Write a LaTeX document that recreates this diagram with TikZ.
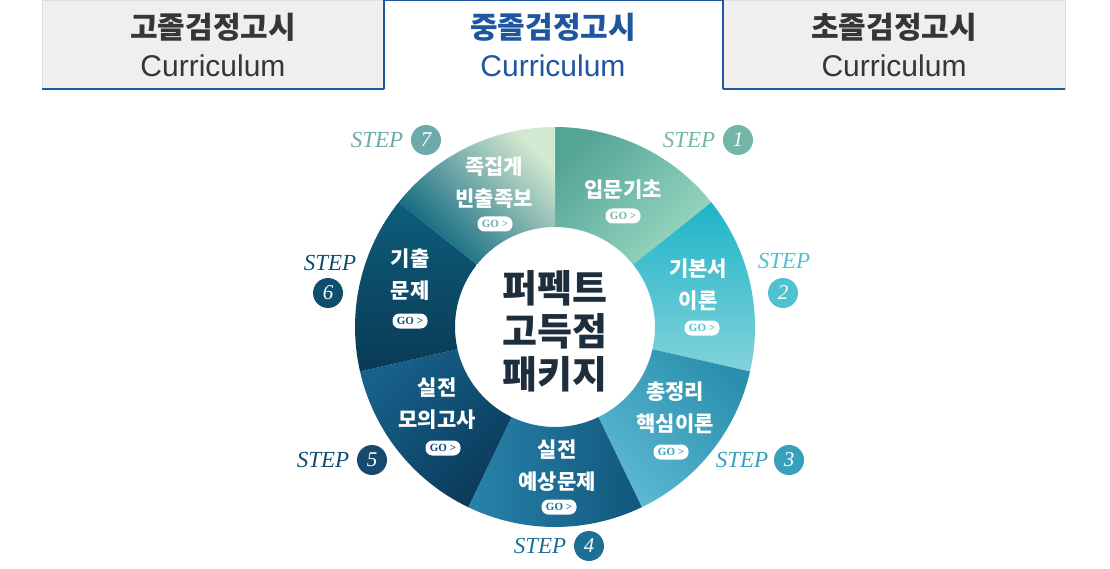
\documentclass[tikz,border=0pt]{standalone}
\usepackage{fontspec}
\setmainfont{Liberation Serif}
\newfontfamily\krfont{Noto Sans CJK KR}
\newfontfamily\latinsans{Liberation Sans}
\usepackage{tikz}
\usetikzlibrary{positioning}
\definecolor{tabbg}{HTML}{F0EEEF}
\definecolor{tabline}{HTML}{DFDEDF}
\definecolor{tabblue}{HTML}{1F56A0}
\definecolor{tabtext}{HTML}{363636}
\definecolor{centernavy}{HTML}{1E2E3C}
\definecolor{seg1a}{HTML}{55A597}
\definecolor{seg1b}{HTML}{9AD8C2}
\definecolor{seg2a}{HTML}{1FB4C8}
\definecolor{seg2b}{HTML}{82D2DA}
\definecolor{seg3a}{HTML}{2A8FAD}
\definecolor{seg3b}{HTML}{5CB8D3}
\definecolor{seg4a}{HTML}{2883AB}
\definecolor{seg4b}{HTML}{11567B}
\definecolor{seg5a}{HTML}{17618C}
\definecolor{seg5b}{HTML}{0B3A59}
\definecolor{seg6a}{HTML}{0D5D7B}
\definecolor{seg6b}{HTML}{0A3A55}
\definecolor{seg7a}{HTML}{03607A}
\definecolor{seg7b}{HTML}{D2E8D0}
\definecolor{step1}{HTML}{73B6A8}
\definecolor{step2}{HTML}{50C1D0}
\definecolor{step3}{HTML}{38A0BD}
\definecolor{step4}{HTML}{1E6F95}
\definecolor{step5}{HTML}{164B6F}
\definecolor{step6}{HTML}{0F4F6D}
\definecolor{step7}{HTML}{6CABAA}

\begin{document}
\begin{tikzpicture}[
        x=1pt, y=-1pt,
        tabbox/.style={rectangle, inner sep=0pt, outer sep=0pt, minimum height=89pt},
        tabtitle/.style={text=#1, font=\krfont\bfseries\fontsize{30}{30}\selectfont},
        tabsub/.style={text=#1, font=\latinsans\fontsize{30}{30}\selectfont},
        segtext/.style={text=white, align=center, font=\krfont\bfseries\fontsize{21}{32}\selectfont},
        gobadge/.style={fill=white, rounded corners=7pt, minimum width=35pt, minimum height=15pt, inner sep=0pt, text=#1, font=\bfseries\fontsize{11}{11}\selectfont},
        steplabel/.style={text=#1, font=\itshape\fontsize{23}{23}\selectfont},
        stepnum/.style={circle, fill=#1, text=white, minimum size=30pt, inner sep=0pt, font=\itshape\fontsize{21}{21}\selectfont},
        centertext/.style={text=centernavy, align=center, font=\krfont\bfseries\fontsize{38}{43}\selectfont}
    ]
        \useasboundingbox (0,0) rectangle (1110,569);

        % tabs
        \node[tabbox, minimum width=342pt, fill=tabbg, draw=tabline] (tabA) at (213,44.5) {};
        \node[tabbox, minimum width=339pt, fill=white] (tabB) at (553.5,44.5) {};
        \node[tabbox, minimum width=342pt, fill=tabbg, draw=tabline] (tabC) at (894,44.5) {};
        \draw[tabblue, line width=2.5pt] (tabB.south west) -- (tabB.north west) -- (tabB.north east) -- (tabB.south east);
        \draw[tabblue, line width=2.5pt] (tabA.south west) -- (tabA.south east);
        \draw[tabblue, line width=2.5pt] (tabC.south west) -- (tabC.south east);
        \node[tabtitle=tabtext] (titleA) at (213,27) {고졸검정고시};
        \node[tabsub=tabtext] (subA) at (213,66) {Curriculum};
        \node[tabtitle=tabblue] (titleB) at (553,27) {중졸검정고시};
        \node[tabsub=tabblue] (subB) at (553,66) {Curriculum};
        \node[tabtitle=tabtext] (titleC) at (894,27) {초졸검정고시};
        \node[tabsub=tabtext] (subC) at (894,66) {Curriculum};

        % ring
        \begin{scope}[shift={(555,327)}]
            \shade[top color=seg1a, bottom color=seg1b, shading angle=45] (-90:200) arc[start angle=-90, end angle=-38.571, radius=200] -- (-38.571:100) arc[start angle=-38.571, end angle=-90, radius=100] -- cycle;
            \shade[top color=seg2a, bottom color=seg2b, shading angle=0] (-38.571:200) arc[start angle=-38.571, end angle=12.857, radius=200] -- (12.857:100) arc[start angle=12.857, end angle=-38.571, radius=100] -- cycle;
            \shade[top color=seg3a, bottom color=seg3b, shading angle=-45] (12.857:200) arc[start angle=12.857, end angle=64.286, radius=200] -- (64.286:100) arc[start angle=64.286, end angle=12.857, radius=100] -- cycle;
            \shade[top color=seg4a, bottom color=seg4b, shading angle=90] (64.286:200) arc[start angle=64.286, end angle=115.714, radius=200] -- (115.714:100) arc[start angle=115.714, end angle=64.286, radius=100] -- cycle;
            \shade[top color=seg5a, bottom color=seg5b, shading angle=45] (115.714:200) arc[start angle=115.714, end angle=167.143, radius=200] -- (167.143:100) arc[start angle=167.143, end angle=115.714, radius=100] -- cycle;
            \shade[top color=seg6a, bottom color=seg6b, shading angle=0] (167.143:200) arc[start angle=167.143, end angle=218.571, radius=200] -- (218.571:100) arc[start angle=218.571, end angle=167.143, radius=100] -- cycle;
            \shade[top color=seg7a, bottom color=seg7b, shading angle=135] (218.571:200) arc[start angle=218.571, end angle=270, radius=200] -- (270:100) arc[start angle=270, end angle=218.571, radius=100] -- cycle;
        \end{scope}

        \node[centertext] (title) at (555,331) {퍼펙트\\고득점\\패키지};

        % segment labels
        \node[segtext] (seg1) at (623,190) {입문기초};
        \node[segtext] (seg2) at (698,284.5) {기본서\\이론};
        \node[segtext] (seg3) at (675,408) {총정리\\핵심이론};
        \node[segtext] (seg4) at (557,466) {실전\\예상문제};
        \node[segtext] (seg5) at (437,404) {실전\\모의고사};
        \node[segtext] (seg6) at (410,275) {기출\\문제};
        \node[segtext] (seg7) at (494,182.5) {족집게\\빈출족보};

        \node[gobadge=step1] (go1) at (623,216) {GO >};
        \node[gobadge=step2] (go2) at (702,328) {GO >};
        \node[gobadge=step3] (go3) at (671,452) {GO >};
        \node[gobadge=step4] (go4) at (559,507) {GO >};
        \node[gobadge=step5] (go5) at (443,448) {GO >};
        \node[gobadge=step6] (go6) at (410,321) {GO >};
        \node[gobadge=step7] (go7) at (495,224) {GO >};

        % steps
        \node[steplabel=step1] (step1txt) at (689,140) {STEP};
        \node[stepnum=step1] (step1num) at (738,140) {1};
        \node[steplabel=step2] (step2txt) at (784,261) {STEP};
        \node[stepnum=step2] (step2num) at (783,293) {2};
        \node[steplabel=step3] (step3txt) at (742,460) {STEP};
        \node[stepnum=step3] (step3num) at (789,460) {3};
        \node[steplabel=step4] (step4txt) at (540,546) {STEP};
        \node[stepnum=step4] (step4num) at (589,546) {4};
        \node[steplabel=step5] (step5txt) at (323,460) {STEP};
        \node[stepnum=step5] (step5num) at (372,460) {5};
        \node[steplabel=step6] (step6txt) at (330,263) {STEP};
        \node[stepnum=step6] (step6num) at (328,293) {6};
        \node[steplabel=step7] (step7txt) at (377,140) {STEP};
        \node[stepnum=step7] (step7num) at (426,140) {7};
    \end{tikzpicture}
\end{document}
